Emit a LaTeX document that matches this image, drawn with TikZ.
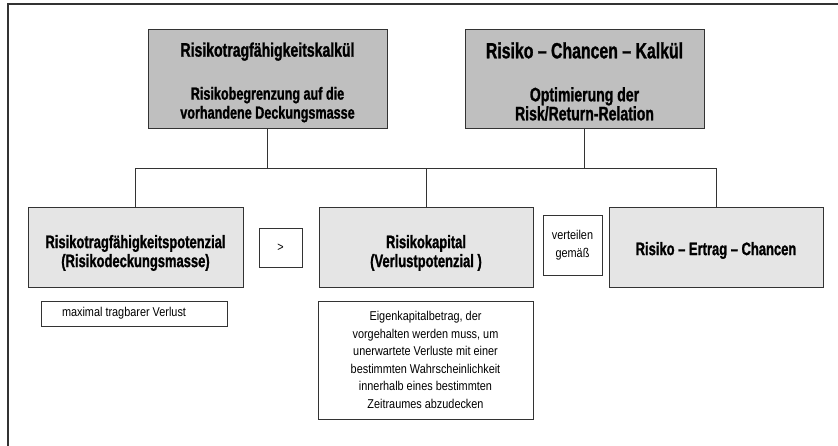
\documentclass[tikz,border=0pt]{standalone}
\usepackage{fontspec}
\setmainfont{Liberation Sans}[FakeStretch=0.85]
\newfontfamily\fett{Liberation Sans Bold}[FakeStretch=0.72, FakeBold=1.2]

\begin{document}
\begin{tikzpicture}[x=1pt,y=-1pt,
	box/.style={draw=black!80, line width=0.8pt, inner sep=0pt, align=center},
	kalkuel/.style={box, fill=black!25, minimum width=239pt, minimum height=99pt, font=\fett\fontsize{19}{19}\selectfont},
	ebene/.style={box, fill=black!10, minimum height=80pt, font=\fett\fontsize{18}{19}\selectfont},
	hinweis/.style={box, fill=white, font=\fontsize{12.8}{17.5}\selectfont}]
				\useasboundingbox (0,0) rectangle (838,446);
				\draw[line width=1.2pt, black!80] (8,446) -- (8,4) -- (838,4);
				\node[kalkuel] (rtk) at (267.5,78.5) {\rule{0pt}{22pt}{\fontsize{19.5}{19}\selectfont Risikotragfähigkeitskalkül}\\[24pt] \fontsize{17.5}{19}\selectfont Risikobegrenzung auf die\\ \fontsize{17.5}{19}\selectfont vorhandene Deckungsmasse};
				\node[kalkuel] (rck) at (584.5,78.5) {\rule{0pt}{22pt}{\fontsize{22}{19}\selectfont Risiko – Chancen – Kalkül}\\[24pt] \fontsize{19.5}{19}\selectfont Optimierung der\\ \fontsize{19.5}{19}\selectfont Risk/Return-Relation};
				\node[ebene, minimum width=215pt] (rtp) at (135.5,247) {\rule{0pt}{25pt}Risikotragfähigkeitspotenzial\\ (Risikodeckungsmasse)};
				\node[ebene, minimum width=214pt] (rk) at (426,247) {\rule{0pt}{25pt}Risikokapital\\ (Verlustpotenzial )};
				\node[ebene, minimum width=214pt] (rec) at (716,247) {\rule{0pt}{20pt}Risiko – Ertrag – Chancen};
				\node[hinweis, minimum width=43pt, minimum height=39pt] (gt) at (280.5,247.5) {>};
				\node[hinweis, minimum width=59pt, minimum height=60pt] (vg) at (572.5,245) {verteilen\\ gemäß};
				\node[hinweis, minimum width=186pt, minimum height=25pt] (mtv) at (134,313.5) {maximal tragbarer Verlust\hspace*{20pt}};
				\node[hinweis, minimum width=215pt, minimum height=118pt] (ekb) at (425.5,360) {Eigenkapitalbetrag, der\\ vorgehalten werden muss, um\\ unerwartete Verluste mit einer\\ bestimmten Wahrscheinlichkeit\\ innerhalb eines bestimmten\\ Zeitraumes abzudecken};
				\coordinate (bus) at (0,168);
				\draw[black!80, line width=0.8pt] (rtp.north) |- (bus -| rec.north) -- (rec.north);
				\draw[black!80, line width=0.8pt] (rk.north) -- (rk.north |- bus);
				\draw[black!80, line width=0.8pt] (rtk.south) -- (rtk.south |- bus);
				\draw[black!80, line width=0.8pt] (rck.south) -- (rck.south |- bus);
				\end{tikzpicture}
\end{document}
